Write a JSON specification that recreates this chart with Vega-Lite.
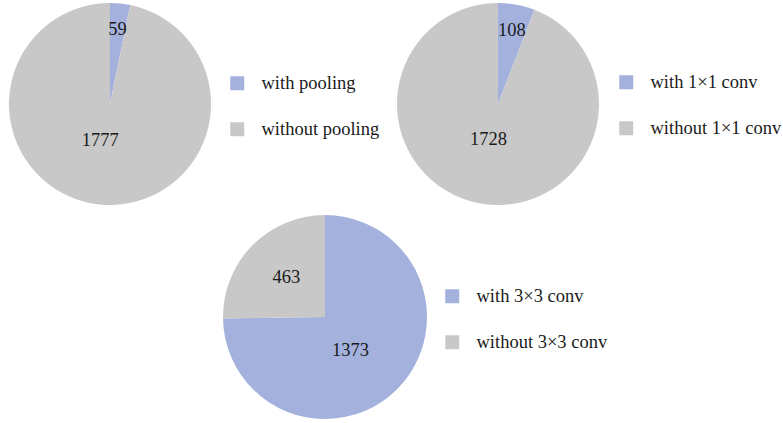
{
  "$schema": "https://vega.github.io/schema/vega-lite/v6.json",
  "background": "white",
  "padding": {"left": 9, "top": 3, "right": 0, "bottom": 0},
  "data": {
    "values": [
      {"chart": "pooling", "category": "with pooling", "count": 59},
      {"chart": "pooling", "category": "without pooling", "count": 1777},
      {"chart": "conv1", "category": "with 1×1 conv", "count": 108},
      {"chart": "conv1", "category": "without 1×1 conv", "count": 1728},
      {"chart": "conv3", "category": "with 3×3 conv", "count": 1373},
      {"chart": "conv3", "category": "without 3×3 conv", "count": 463}
    ]
  },
  "vconcat": [
    {
      "hconcat": [
        {
          "width": 202,
          "height": 202,
          "transform": [{"filter": "datum.chart === 'pooling'"}],
          "layer": [
            {
              "mark": {"type": "arc"},
              "encoding": {
                "theta": {"field": "count", "type": "quantitative", "stack": true},
                "order": {"field": "category", "sort": "ascending"},
                "color": {
                  "field": "category",
                  "type": "nominal",
                  "scale": {"domain": ["with pooling", "without pooling"], "range": ["#a3b1dc", "#c8c8c8"]},
                  "legend": {"orient": "none", "legendX": 219, "legendY": 71, "title": null, "symbolType": "square", "symbolSize": 196, "symbolStrokeWidth": 0, "labelFont": "Liberation Serif", "labelFontSize": 18.5, "labelColor": "#1a1a1a", "rowPadding": 27, "labelOffset": 15, "padding": 0}
                }
              }
            },
            {
              "mark": {"type": "text", "radius": 75, "font": "Liberation Serif", "fontSize": 18.5, "color": "#1a1a1a"},
              "encoding": {
                "theta": {"field": "count", "type": "quantitative", "stack": true},
                "order": {"field": "category", "sort": "ascending"},
                "detail": {"field": "category", "type": "nominal"},
                "text": {"condition": {"test": "datum.category === 'with pooling'", "field": "count", "type": "quantitative", "format": "d"}, "value": ""}
              }
            },
            {
              "mark": {"type": "text", "radius": 36, "dx": -6, "font": "Liberation Serif", "fontSize": 18.5, "color": "#1a1a1a"},
              "encoding": {
                "theta": {"field": "count", "type": "quantitative", "stack": true},
                "order": {"field": "category", "sort": "ascending"},
                "detail": {"field": "category", "type": "nominal"},
                "text": {"condition": {"test": "datum.category === 'without pooling'", "field": "count", "type": "quantitative", "format": "d"}, "value": ""}
              }
            }
          ]
        },
        {
          "width": 202,
          "height": 202,
          "transform": [{"filter": "datum.chart === 'conv1'"}],
          "layer": [
            {
              "mark": {"type": "arc"},
              "encoding": {
                "theta": {"field": "count", "type": "quantitative", "stack": true},
                "order": {"field": "category", "sort": "ascending"},
                "color": {
                  "field": "category",
                  "type": "nominal",
                  "scale": {"domain": ["with 1×1 conv", "without 1×1 conv"], "range": ["#a3b1dc", "#c8c8c8"]},
                  "legend": {"orient": "none", "legendX": 220, "legendY": 70, "title": null, "symbolType": "square", "symbolSize": 196, "symbolStrokeWidth": 0, "labelFont": "Liberation Serif", "labelFontSize": 18.5, "labelColor": "#1a1a1a", "rowPadding": 27, "labelOffset": 15, "padding": 0}
                }
              }
            },
            {
              "mark": {"type": "text", "radius": 75, "font": "Liberation Serif", "fontSize": 18.5, "color": "#1a1a1a"},
              "encoding": {
                "theta": {"field": "count", "type": "quantitative", "stack": true},
                "order": {"field": "category", "sort": "ascending"},
                "detail": {"field": "category", "type": "nominal"},
                "text": {"condition": {"test": "datum.category === 'with 1×1 conv'", "field": "count", "type": "quantitative", "format": "d"}, "value": ""}
              }
            },
            {
              "mark": {"type": "text", "radius": 36, "dx": -3, "font": "Liberation Serif", "fontSize": 18.5, "color": "#1a1a1a"},
              "encoding": {
                "theta": {"field": "count", "type": "quantitative", "stack": true},
                "order": {"field": "category", "sort": "ascending"},
                "detail": {"field": "category", "type": "nominal"},
                "text": {"condition": {"test": "datum.category === 'without 1×1 conv'", "field": "count", "type": "quantitative", "format": "d"}, "value": ""}
              }
            }
          ]
        }
      ],
      "spacing": 186,
      "bounds": "flush",
      "resolve": {"scale": {"color": "independent", "theta": "independent"}, "legend": {"color": "independent"}}
    },
    {
      "width": 632,
      "height": 204,
      "transform": [{"filter": "datum.chart === 'conv3'"}],
      "layer": [
        {
          "mark": {"type": "arc"},
          "encoding": {
            "theta": {"field": "count", "type": "quantitative", "stack": true},
            "order": {"field": "category", "sort": "ascending"},
            "color": {
              "field": "category",
              "type": "nominal",
              "scale": {"domain": ["with 3×3 conv", "without 3×3 conv"], "range": ["#a3b1dc", "#c8c8c8"]},
              "legend": {"orient": "none", "legendX": 434, "legendY": 72, "title": null, "symbolType": "square", "symbolSize": 196, "symbolStrokeWidth": 0, "labelFont": "Liberation Serif", "labelFontSize": 18.5, "labelColor": "#1a1a1a", "rowPadding": 27, "labelOffset": 15, "padding": 0}
            }
          }
        },
        {
          "mark": {"type": "text", "radius": 40, "dx": -3, "dy": 5, "font": "Liberation Serif", "fontSize": 18.5, "color": "#1a1a1a"},
          "encoding": {
            "theta": {"field": "count", "type": "quantitative", "stack": true},
            "order": {"field": "category", "sort": "ascending"},
            "detail": {"field": "category", "type": "nominal"},
            "text": {"condition": {"test": "datum.category === 'with 3×3 conv'", "field": "count", "type": "quantitative", "format": "d"}, "value": ""}
          }
        },
        {
          "mark": {"type": "text", "radius": 57, "dx": 2, "font": "Liberation Serif", "fontSize": 18.5, "color": "#1a1a1a"},
          "encoding": {
            "theta": {"field": "count", "type": "quantitative", "stack": true},
            "order": {"field": "category", "sort": "ascending"},
            "detail": {"field": "category", "type": "nominal"},
            "text": {"condition": {"test": "datum.category === 'without 3×3 conv'", "field": "count", "type": "quantitative", "format": "d"}, "value": ""}
          }
        }
      ]
    }
  ],
  "spacing": 10,
  "resolve": {"scale": {"color": "independent", "theta": "independent"}, "legend": {"color": "independent"}},
  "config": {"view": {"stroke": null}, "font": "Liberation Serif"}
}
